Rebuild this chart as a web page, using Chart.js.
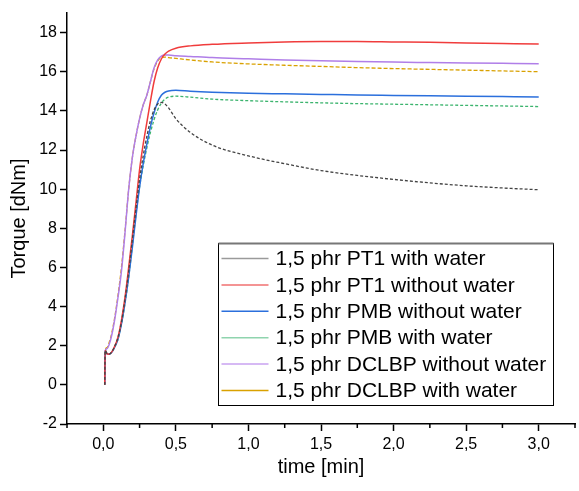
<!DOCTYPE html>
<html lang="en">
<head>
    <meta charset="UTF-8">
    <title>Torque vs time</title>
    <script src="https://cdn.jsdelivr.net/npm/chart.js"></script>
    <style>
        html, body { margin: 0; padding: 0; background: #fff; }
        #wrap { width: 579px; height: 491px; }
    </style>
</head>
<body>
    <div id="wrap"><canvas id="myChart" width="579" height="491"></canvas></div>

    <script>
        // time axis [min], shared by all series
        const time = [0.01, 0.013, 0.025, 0.04, 0.06, 0.08, 0.1, 0.125, 0.15, 0.175, 0.2, 0.225, 0.25, 0.275, 0.3,
            0.325, 0.35, 0.375, 0.4, 0.425, 0.45, 0.5, 0.6, 0.75, 1.0, 1.25, 1.5, 1.75, 2.0, 2.25, 2.5, 2.75, 3.0];

        // torque [dNm]
        const pt1Water = [0, 1.75, 1.6, 1.57, 1.7, 2.0, 2.4, 3.2, 4.4, 5.8, 7.4, 9.0, 10.5, 11.7, 12.7,
            13.5, 14.05, 14.35, 14.43, 14.35, 14.15, 13.6, 12.9, 12.25, 11.7, 11.3, 10.95, 10.7, 10.5, 10.32, 10.17, 10.06, 9.97];
        const pt1NoWater = [0, 1.75, 1.6, 1.57, 1.7, 2.0, 2.4, 3.3, 4.5, 6.0, 7.6, 9.3, 11.0, 12.3, 13.4,
            14.5, 15.5, 16.2, 16.65, 16.9, 17.05, 17.2, 17.32, 17.4, 17.47, 17.52, 17.54, 17.54, 17.52, 17.5, 17.47, 17.44, 17.41];
        const pmbNoWater = [0, 1.75, 1.6, 1.57, 1.68, 1.95, 2.3, 3.1, 4.2, 5.5, 7.0, 8.6, 10.1, 11.3, 12.3,
            13.2, 13.9, 14.45, 14.8, 14.95, 15.02, 15.05, 15.0, 14.95, 14.9, 14.87, 14.84, 14.81, 14.79, 14.77, 14.75, 14.73, 14.71];
        const pmbWater = [0, 1.75, 1.6, 1.57, 1.68, 1.95, 2.3, 3.1, 4.2, 5.5, 7.1, 8.7, 10.1, 11.2, 12.1,
            12.9, 13.55, 14.05, 14.4, 14.6, 14.7, 14.75, 14.7, 14.6, 14.52, 14.46, 14.41, 14.37, 14.34, 14.31, 14.28, 14.25, 14.22];
        const dclbpNoWater = [0, 1.75, 1.85, 2.05, 2.6, 3.4, 4.4, 5.8, 7.8, 10.0, 11.6, 12.7, 13.6, 14.3, 14.8,
            15.5, 16.2, 16.6, 16.8, 16.85, 16.85, 16.82, 16.78, 16.72, 16.66, 16.6, 16.56, 16.52, 16.49, 16.47, 16.45, 16.43, 16.41];
        const dclbpWater = [0, 1.75, 1.9, 2.15, 2.7, 3.5, 4.5, 6.0, 7.9, 10.0, 11.6, 12.7, 13.6, 14.3, 14.8,
            15.5, 16.15, 16.55, 16.72, 16.75, 16.72, 16.68, 16.6, 16.5, 16.4, 16.33, 16.27, 16.21, 16.16, 16.12, 16.08, 16.04, 16.0];

        const seriesNames = ['1,5 phr PT1 with water', '1,5 phr PT1 without water', '1,5 phr PMB without water',
            '1,5 phr PMB with water', '1,5 phr DCLBP without water', '1,5 phr DCLBP with water'];
        const seriesValues = [pt1Water, pt1NoWater, pmbNoWater, pmbWater, dclbpNoWater, dclbpWater];
        const seriesColors = ['#444444', '#f03c3c', '#2b6fdc', '#3cb46e', '#b07ee8', '#d9a100'];
        const legendColors = ['#9a9a9a', '#f07070', '#2b6fdc', '#8fd4ae', '#c8a2f0', '#d9a100'];
        const seriesDash = [[3, 2], [], [], [3, 2], [], [4, 2]];

        const FONT = "'Liberation Sans', Arial, sans-serif";
        const isMajorX = v => Math.abs(v / 0.5 - Math.round(v / 0.5)) < 1e-6;
        const isMajorY = v => Math.abs(v / 2 - Math.round(v / 2)) < 1e-6;

        // short minor ticks + legend box inside the plot
        const extras = {
            id: 'extras',
            afterDraw(chart) {
                const ctx = chart.ctx;
                const xs = chart.scales.x, ys = chart.scales.y;
                ctx.save();
                ctx.strokeStyle = '#000';
                ctx.lineWidth = 1.5;
                ctx.beginPath();
                xs.ticks.forEach(t => {
                    if (!isMajorX(t.value)) {
                        const px = xs.getPixelForValue(t.value);
                        ctx.moveTo(px, ys.bottom); ctx.lineTo(px, ys.bottom + 4);
                    }
                });
                ys.ticks.forEach(t => {
                    if (!isMajorY(t.value)) {
                        const py = ys.getPixelForValue(t.value);
                        ctx.moveTo(xs.left, py); ctx.lineTo(xs.left - 4, py);
                    }
                });
                ctx.stroke();

                // legend
                const bx = 218.5, by = 243.5, bw = 335, bh = 162, row = 26.4;
                ctx.fillStyle = '#fff';
                ctx.fillRect(bx, by, bw, bh);
                ctx.lineWidth = 1;
                ctx.strokeStyle = '#000';
                ctx.strokeRect(bx, by, bw, bh);
                ctx.strokeStyle = '#777';
                ctx.lineWidth = 2;
                ctx.beginPath(); ctx.moveTo(bx, by); ctx.lineTo(bx + bw, by); ctx.stroke();
                ctx.font = '21px ' + FONT;
                ctx.textBaseline = 'middle';
                ctx.fillStyle = '#000';
                seriesNames.forEach((name, i) => {
                    const yy = by + 15 + i * row;
                    ctx.strokeStyle = legendColors[i];
                    ctx.lineWidth = 1.5;
                    ctx.beginPath(); ctx.moveTo(bx + 3, yy); ctx.lineTo(bx + 50, yy); ctx.stroke();
                    ctx.fillText(name, bx + 57, yy + 1);
                });
                ctx.restore();
            }
        };

        const ctx = document.getElementById('myChart').getContext('2d');
        const myChart = new Chart(ctx, {
            type: 'line',
            data: {
                datasets: seriesNames.map((name, i) => ({
                    label: name,
                    data: time.map((t, j) => ({ x: t, y: seriesValues[i][j] })),
                    borderColor: seriesColors[i],
                    borderDash: seriesDash[i],
                    borderWidth: seriesDash[i].length ? 1.3 : 1.5,
                    pointRadius: 0,
                    cubicInterpolationMode: 'monotone',
                    fill: false
                }))
            },
            options: {
                responsive: false,
                animation: false,
                layout: { padding: { top: 13, right: 1, left: 0, bottom: 0 } },
                plugins: { legend: { display: false }, tooltip: { enabled: false } },
                scales: {
                    x: {
                        type: 'linear',
                        min: -0.25,
                        max: 3.25,
                        afterFit: s => { s.height = 67; },
                        border: { color: '#000', width: 1.5 },
                        grid: {
                            drawOnChartArea: false,
                            tickLength: 7,
                            tickWidth: 1.5,
                            tickColor: c => (c.tick && isMajorX(c.tick.value)) ? '#000' : 'rgba(0,0,0,0)'
                        },
                        ticks: {
                            stepSize: 0.25,
                            padding: 4,
                            color: '#000',
                            font: { family: FONT, size: 16 },
                            callback: v => isMajorX(v) ? v.toFixed(1).replace('.', ',') : ''
                        },
                        title: {
                            display: true,
                            text: 'time [min]',
                            color: '#000',
                            font: { family: FONT, size: 20 },
                            padding: { top: 6, bottom: 12 }
                        }
                    },
                    y: {
                        min: -2,
                        max: 19,
                        afterFit: s => { s.width = 67; },
                        border: { color: '#000', width: 1.5 },
                        grid: {
                            drawOnChartArea: false,
                            tickLength: 7,
                            tickWidth: 1.5,
                            tickColor: c => (c.tick && isMajorY(c.tick.value)) ? '#000' : 'rgba(0,0,0,0)'
                        },
                        ticks: {
                            stepSize: 1,
                            padding: 3,
                            color: '#000',
                            font: { family: FONT, size: 16 },
                            callback: v => isMajorY(v) ? String(v) : ''
                        },
                        title: {
                            display: true,
                            text: 'Torque [dNm]',
                            color: '#000',
                            font: { family: FONT, size: 20 },
                            padding: { top: 7, bottom: 4 }
                        }
                    }
                }
            },
            plugins: [extras]
        });
    </script>
</body>
</html>
